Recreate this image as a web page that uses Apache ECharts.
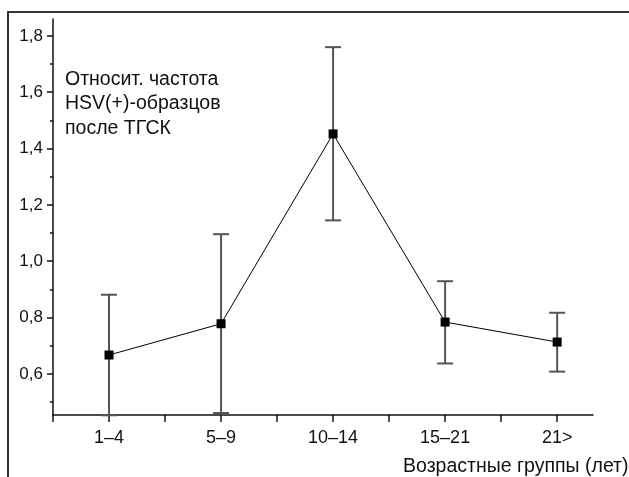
<!DOCTYPE html>
<html>
<head>
<meta charset="utf-8">
<script src="https://cdn.jsdelivr.net/npm/echarts@6/dist/echarts.min.js"></script>
<style>
  html, body { margin: 0; padding: 0; background: #fff; }
  #main { width: 629px; height: 477px; }
</style>
</head>
<body>
<div id="main"></div>
<script>
// возрастные группы и значения (читано с картинки)
var categories = ['1–4', '5–9', '10–14', '15–21', '21>'];
var meanValues = [0.667, 0.778, 1.452, 0.784, 0.713];
var lowValues  = [0.453, 0.461, 1.145, 0.637, 0.608];
var highValues = [0.881, 1.096, 1.760, 0.929, 0.817];

var yTickLabels = [0.6, 0.8, 1.0, 1.2, 1.4, 1.6, 1.8];
var yMinorTicks = [0.5, 0.7, 0.9, 1.1, 1.3, 1.5, 1.7];
var xTicks = [0.5, 1, 1.5, 2, 2.5, 3, 3.5, 4, 4.5, 5];

var FONT = '"Liberation Sans", Arial, sans-serif';

var lineData = [];
var barData = [];
for (var i = 0; i < categories.length; i++) {
    lineData.push([i + 1, meanValues[i]]);
    barData.push([i + 1, lowValues[i], highValues[i]]);
}

var myChart = echarts.init(document.getElementById('main'));

myChart.setOption({
    animation: false,
    backgroundColor: '#fff',
    grid: { left: 53, top: 19, right: 36, bottom: 62 },
    xAxis: {
        type: 'value',
        min: 0.5,
        max: 5.32,
        axisLine: { lineStyle: { color: '#111', width: 1.5 } },
        axisTick: { show: true, length: 7, customValues: xTicks, lineStyle: { color: '#111', width: 1.5 } },
        axisLabel: {
            customValues: [1, 2, 3, 4, 5],
            margin: 14,
            fontFamily: FONT, fontSize: 18, color: '#111',
            formatter: function (v) { return categories[Math.round(v) - 1] || ''; }
        },
        splitLine: { show: false }
    },
    yAxis: [{
        type: 'value',
        min: 0.454,
        max: 1.86,
        axisLine: { show: true, lineStyle: { color: '#111', width: 1.5 } },
        axisTick: { show: true, length: 6, customValues: yTickLabels, lineStyle: { color: '#111', width: 1.5 } },
        axisLabel: {
            customValues: yTickLabels,
            margin: 10,
            fontFamily: FONT, fontSize: 17, color: '#111',
            formatter: function (v) { return v.toFixed(1).replace('.', ','); }
        },
        splitLine: { show: false }
    }, {
        type: 'value',
        min: 0.454,
        max: 1.86,
        position: 'left',
        axisLine: { show: false },
        axisTick: { show: true, length: 3, customValues: yMinorTicks, lineStyle: { color: '#111', width: 1.5 } },
        axisLabel: { show: false },
        splitLine: { show: false }
    }],
    graphic: [
        {
            type: 'rect',
            shape: { x: 8, y: 12, width: 900, height: 700 },
            style: { fill: 'none', stroke: '#333', lineWidth: 2 }
        },
        {
            type: 'text',
            left: 65, top: 67,
            style: {
                text: 'Относит. частота\nHSV(+)-образцов\nпосле ТГСК',
                font: '19.5px ' + FONT,
                lineHeight: 24.5,
                fill: '#111'
            }
        },
        {
            type: 'text',
            left: 403, top: 457,
            style: {
                text: 'Возрастные группы (лет)',
                font: '19.5px ' + FONT,
                fill: '#111'
            }
        }
    ],
    series: [
        {
            type: 'custom',
            z: 2,
            clip: false,
            data: barData,
            renderItem: function (params, api) {
                var x = api.value(0);
                var lo = api.coord([x, api.value(1)]);
                var hi = api.coord([x, api.value(2)]);
                var half = 8;
                var st = { stroke: '#555', lineWidth: 2 };
                return {
                    type: 'group',
                    children: [
                        { type: 'line', shape: { x1: lo[0], y1: lo[1], x2: hi[0], y2: hi[1] }, style: st },
                        { type: 'line', shape: { x1: hi[0] - half, y1: hi[1], x2: hi[0] + half, y2: hi[1] }, style: st },
                        { type: 'line', shape: { x1: lo[0] - half, y1: lo[1], x2: lo[0] + half, y2: lo[1] }, style: st }
                    ]
                };
            }
        },
        {
            type: 'line',
            z: 3,
            data: lineData,
            symbol: 'rect',
            symbolSize: 9,
            itemStyle: { color: '#000' },
            lineStyle: { color: '#000', width: 1 }
        }
    ]
});
</script>
</body>
</html>
